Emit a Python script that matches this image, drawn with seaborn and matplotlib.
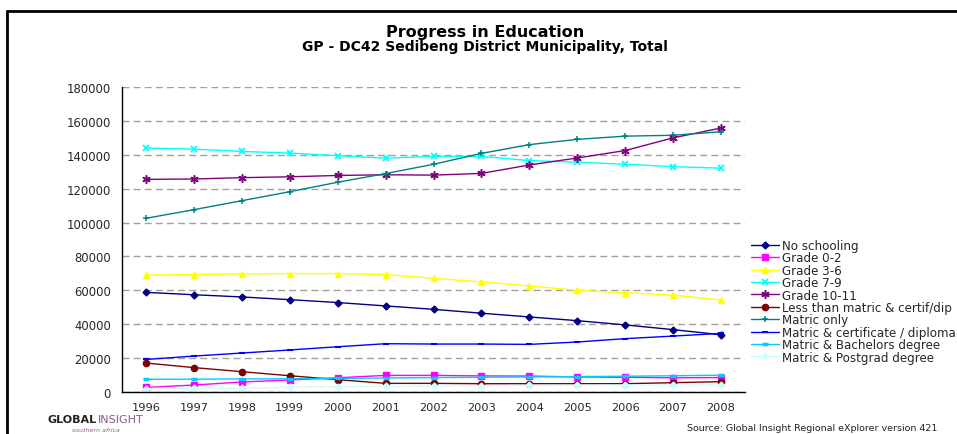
import matplotlib
matplotlib.use("Agg")
import matplotlib.pyplot as plt
import seaborn as sns
import pandas as pd

sns.set_theme(style="white")
plt.rcParams["font.family"] = ["DejaVu Sans"]

years = ["1996", "1997", "1998", "1999", "2000", "2001", "2002",
         "2003", "2004", "2005", "2006", "2007", "2008"]

no_schooling = [58800, 57400, 56100, 54500, 52800, 50800, 48800,
                46500, 44300, 42100, 39600, 36800, 33800]
grade_0_2 = [2700, 4100, 5900, 7100, 8400, 9800, 9800,
             9500, 9400, 8900, 8700, 8400, 8500]
grade_3_6 = [69000, 69300, 69700, 69900, 69900, 69300, 67100,
             65000, 62600, 60000, 58600, 57200, 54300]
grade_7_9 = [144000, 143300, 142000, 141000, 139500, 138000, 139100,
             139000, 136600, 135600, 134400, 133000, 132100]
grade_10_11 = [125500, 125700, 126500, 127000, 127800, 128200, 128000,
               129000, 134000, 138100, 142500, 150000, 155800]
less_than_matric = [17100, 14400, 12000, 9600, 7300, 5100, 5100,
                    4900, 4900, 4900, 4900, 5500, 6100]
matric_only = [102500, 107600, 112900, 118200, 123800, 128900, 134400,
               140800, 146000, 149100, 151000, 151500, 153600]
matric_cert = [19200, 21200, 23000, 24800, 26700, 28500, 28300,
               28300, 28100, 29500, 31500, 33000, 34600]
matric_bachelors = [7500, 7600, 7700, 7800, 8000, 8300, 8500,
                    8700, 8900, 9100, 9300, 9600, 9900]
matric_postgrad = [2000, 2200, 2400, 2700, 3000, 3300, 3500,
                   3700, 3900, 4000, 4100, 4200, 4300]

series = [
    ("No schooling", no_schooling, "#000080", "D", 3.5, 1.0),
    ("Grade 0-2", grade_0_2, "#FF00FF", "s", 4.5, 1.0),
    ("Grade 3-6", grade_3_6, "#FFFF00", "^", 5, 1.0),
    ("Grade 7-9", grade_7_9, "#00FFFF", "x", 5, 1.3),
    ("Grade 10-11", grade_10_11, "#800080", (6, 2, 0), 6, 1.1),
    ("Less than matric & certif/dip", less_than_matric, "#800000", "o", 4.5, 1.0),
    ("Matric only", matric_only, "#008080", "+", 5, 1.1),
    ("Matric & certificate / diploma", matric_cert, "#0000FF", "_", 4, 1.5),
    ("Matric & Bachelors degree", matric_bachelors, "#00CCFF", "_", 5, 2.5),
    ("Matric & Postgrad degree", matric_postgrad, "#CCFFFF", "D", 3.5, 1.0),
]

fig = plt.figure(figsize=(9.57, 4.35), dpi=100)
ax = fig.add_axes([122 / 957, 1 - 393 / 435, (745 - 122) / 957, (393 - 88) / 435])

positions = list(range(len(years)))
for name, vals, color, marker, msize, mew in series:
    df = pd.DataFrame({"pos": positions, "value": vals})
    sns.lineplot(data=df, x="pos", y="value", ax=ax, color=color, marker=marker,
                 markersize=msize, markeredgewidth=mew, markeredgecolor=color,
                 linewidth=1.0, label=name)

ax.set_xlim(-0.5, len(years) - 0.5)
ax.set_ylim(0, 180000)
ax.set_yticks(range(0, 180001, 20000))
ax.set_yticklabels([str(v) for v in range(0, 180001, 20000)], fontsize=8.4)
ax.set_xticks(positions)
ax.set_xticklabels(years, fontsize=8.2)
ax.set_xticks([p - 0.5 for p in positions] + [len(years) - 0.5], minor=True)
ax.tick_params(axis="x", which="major", length=0, pad=7)
ax.tick_params(axis="x", which="minor", length=6, direction="inout", width=1, color="black")
ax.tick_params(axis="y", length=6, direction="inout", width=1, color="black", pad=5)
ax.set_xlabel("")
ax.set_ylabel("")

ax.yaxis.grid(True, color="#a0a0a0", linestyle=(0, (5, 3)), linewidth=1.0)
ax.set_axisbelow(True)
for side in ("top", "right"):
    ax.spines[side].set_visible(False)
for side in ("left", "bottom"):
    ax.spines[side].set_color("black")
    ax.spines[side].set_linewidth(1.0)

leg = ax.legend(loc="upper left", bbox_to_anchor=(751 / 957, 1 - 240 / 435),
                bbox_transform=fig.transFigure, frameon=False, fontsize=8.6,
                handlelength=2.35, handletextpad=0.25, labelspacing=-0.05,
                borderaxespad=0, borderpad=0)

fig.text(485 / 957, 1 - 33 / 435, "Progress in Education", ha="center", va="center",
         fontsize=11.5, fontweight="bold", color="black")
fig.text(485 / 957, 1 - 47 / 435, "GP - DC42 Sedibeng District Municipality, Total",
         ha="center", va="center", fontsize=10, fontweight="bold", color="black")

fig.text(47 / 957, 1 - 420 / 435, "GLOBAL", ha="left", va="center",
         fontsize=8, fontweight="black", color="#222222")
fig.text(98 / 957, 1 - 420 / 435, "INSIGHT", ha="left", va="center",
         fontsize=8, color="#8a5a8a")
fig.text(72 / 957, 1 - 431 / 435, "southern africa", ha="left", va="center",
         fontsize=4.5, color="#8a5a8a", style="italic")
fig.text(937 / 957, 1 - 429 / 435, "Source: Global Insight Regional eXplorer version 421",
         ha="right", va="center", fontsize=6.8, color="#222222")

# Frame lines along the top and left edges
fig.add_artist(plt.Line2D([6.5 / 957, 1.0], [1 - 11.5 / 435, 1 - 11.5 / 435],
                          transform=fig.transFigure, color="black", linewidth=2))
fig.add_artist(plt.Line2D([6.5 / 957, 6.5 / 957], [0.0, 1 - 11.5 / 435],
                          transform=fig.transFigure, color="black", linewidth=2))

fig.savefig("out.png", dpi=100, facecolor="white")
